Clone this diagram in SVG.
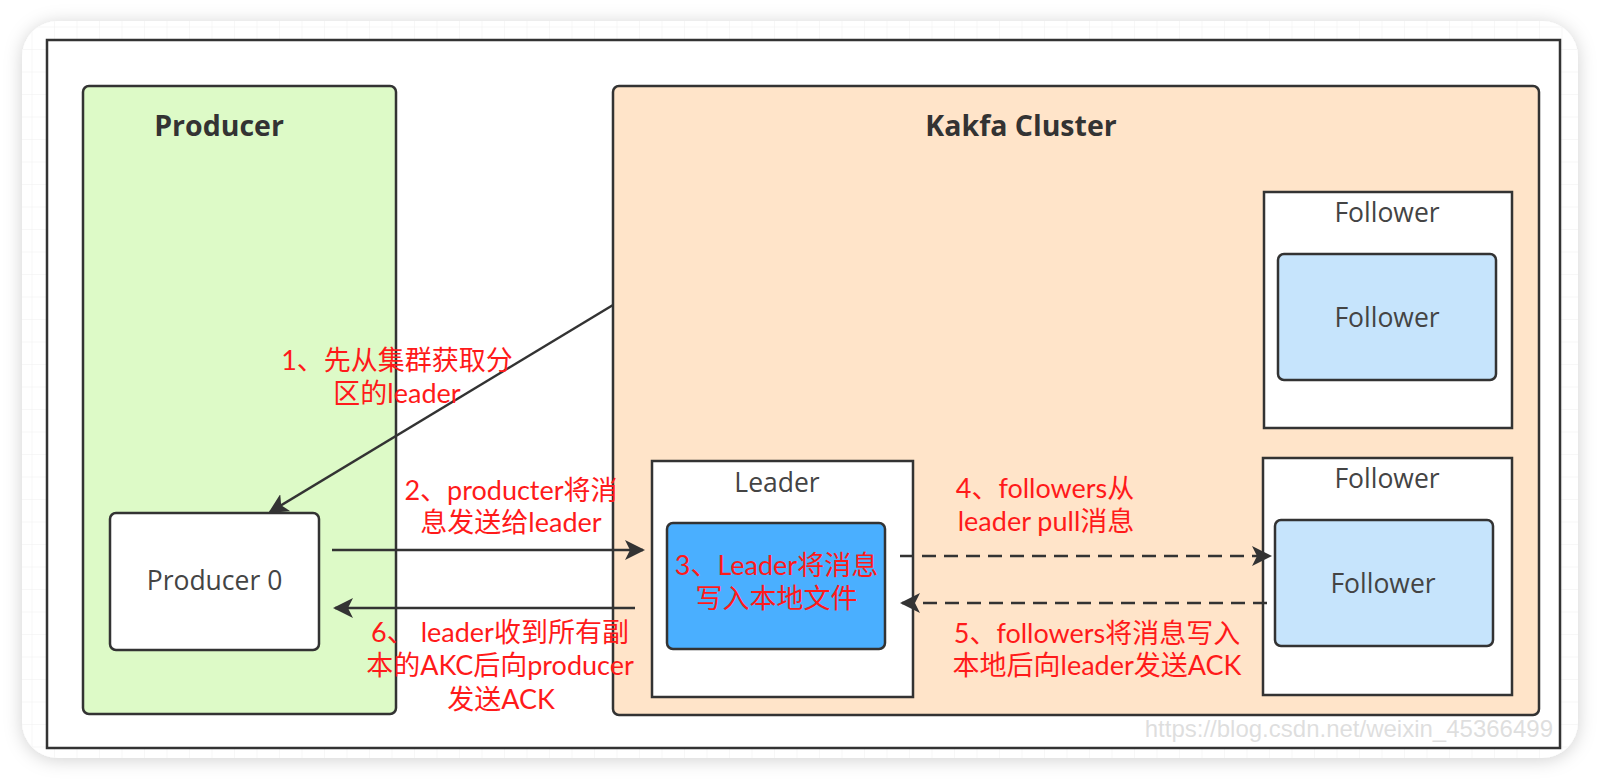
<svg xmlns="http://www.w3.org/2000/svg" width="1600" height="781" viewBox="0 0 1600 781">
<defs>
<filter id="shadow" x="-5%" y="-5%" width="110%" height="115%">
<feDropShadow dx="0" dy="2" stdDeviation="9" flood-color="#000" flood-opacity="0.18"/>
</filter>
<pattern id="grid" width="22.5" height="22.5" patternUnits="userSpaceOnUse" x="10" y="5">
<path d="M22.5 0V22.5M0 22.5H22.5" fill="none" stroke="#efefef" stroke-width="1"/>
</pattern>
<marker id="arrow" viewBox="0 0 10 10" refX="9" refY="5" markerWidth="8" markerHeight="8" markerUnits="strokeWidth" orient="auto">
<path d="M0 0L10 5L0 10L2.5 5Z" fill="#333"/>
</marker>
</defs>
<style>
.box{stroke:#333;stroke-width:2.5}
.title{font-family:"Open Sans","Liberation Sans",sans-serif;font-weight:bold;font-size:28.5px;fill:#333;text-anchor:middle}
.lbl{font-family:"Open Sans","Liberation Sans",sans-serif;font-size:26.5px;fill:#444;text-anchor:middle}
.red{font-family:Lato,"Noto Sans CJK SC",sans-serif;font-size:27px;fill:#ff1a1a;text-anchor:middle}
.conn{stroke:#333;stroke-width:2.5;fill:none;marker-end:url(#arrow)}
.dash{stroke-dasharray:14 8}
</style>
<rect width="1600" height="781" fill="#fff"/>
<g id="card">
<rect x="22" y="21" width="1556" height="737" rx="36" fill="#fff" filter="url(#shadow)"/>
<rect x="22" y="21" width="1556" height="737" rx="36" fill="url(#grid)"/>
<rect x="47" y="40" width="1513" height="708" fill="#fff" stroke="#333" stroke-width="2.5"/>
</g>
<g id="producer-group">
<rect class="box" x="83" y="86" width="313" height="628" rx="6" fill="#ddfac7"/>
<text class="title" x="219" y="136">Producer</text>
</g>
<g id="kafka-cluster">
<rect class="box" x="613" y="86" width="926" height="629" rx="6" fill="#ffe4c9"/>
<text class="title" x="1021" y="136">Kakfa Cluster</text>
</g>
<g id="producer0">
<rect class="box" x="110" y="513" width="209" height="137" rx="6" fill="#fff"/>
<text class="lbl" x="214.5" y="590">Producer 0</text>
</g>
<g id="leader">
<rect class="box" x="652" y="461" width="261" height="236" fill="#fff"/>
<text class="lbl" x="777" y="492">Leader</text>
<rect class="box" x="667" y="523" width="218" height="126" rx="6" fill="#4aafff"/>
<text class="red"><tspan x="776.5" y="575">3、Leader将消息</tspan><tspan x="776.5" y="608">写入本地文件</tspan></text>
</g>
<g id="follower1">
<rect class="box" x="1264" y="192" width="248" height="236" fill="#fff"/>
<text class="lbl" x="1387" y="222">Follower</text>
<rect class="box" x="1278" y="254" width="218" height="126" rx="6" fill="#c6e4fc"/>
<text class="lbl" x="1387" y="327">Follower</text>
</g>
<g id="follower2">
<rect class="box" x="1263" y="458" width="249" height="237" fill="#fff"/>
<text class="lbl" x="1387" y="488">Follower</text>
<rect class="box" x="1275" y="520" width="218" height="126" rx="6" fill="#c6e4fc"/>
<text class="lbl" x="1383" y="593">Follower</text>
</g>
<g id="connectors">
<line class="conn" x1="613" y1="305" x2="270" y2="512"/>
<line class="conn" x1="332" y1="550" x2="643" y2="550"/>
<line class="conn" x1="635" y1="608" x2="335" y2="608"/>
<line class="conn dash" x1="900" y1="556" x2="1270" y2="556"/>
<line class="conn dash" x1="1267" y1="603" x2="902" y2="603"/>
</g>
<g id="labels">
<text class="red"><tspan x="397" y="370">1、先从集群获取分</tspan><tspan x="397" y="403">区的leader</tspan></text>
<text class="red"><tspan x="511" y="500">2、producter将消</tspan><tspan x="511" y="532">息发送给leader</tspan></text>
<text class="red"><tspan x="1045" y="498">4、followers从</tspan><tspan x="1046" y="531">leader pull消息</tspan></text>
<text class="red"><tspan x="1097" y="643">5、followers将消息写入</tspan><tspan x="1097" y="675">本地后向leader发送ACK</tspan></text>
<text class="red"><tspan x="500" y="642">6、 leader收到所有副</tspan><tspan x="500" y="675">本的AKC后向producer</tspan><tspan x="501" y="709">发送ACK</tspan></text>
</g>
<text x="1553" y="737" font-family="Liberation Sans, sans-serif" font-size="24" fill="#d9d9d9" fill-opacity="0.85" text-anchor="end">https://blog.csdn.net/weixin_45366499</text>
</svg>
